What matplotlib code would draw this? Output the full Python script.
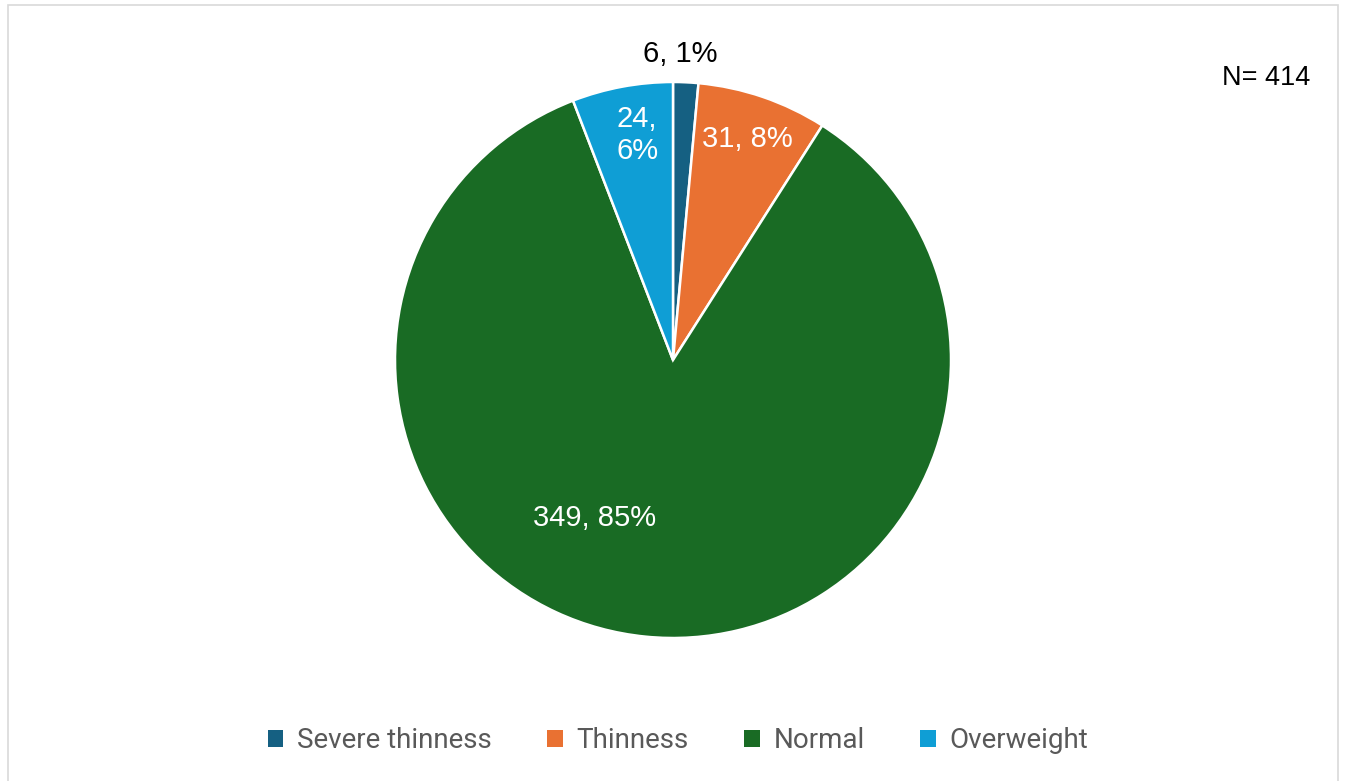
import matplotlib
matplotlib.use("Agg")
import matplotlib.pyplot as plt
from matplotlib.patches import Rectangle, Patch

categories = ["Severe thinness", "Thinness", "Normal", "Overweight"]
counts = [6, 31, 349, 24]
colors = ["#156082", "#E97132", "#196B24", "#0F9ED5"]
label_pos = [(0.025, 1.10), (0.266, 0.795), (-0.281, -0.568), (-0.129, 0.809)]
label_color = ["black", "white", "white", "white"]
n_total = 414

plt.rcParams["font.family"] = ["Liberation Sans", "DejaVu Sans"]

W, H = 1346, 781
fig = plt.figure(figsize=(W / 100, H / 100), dpi=100)

# chart area border
fig.patches.append(Rectangle((8 / W, -0.01), 1330 / W, (H - 5) / H + 0.01,
                             transform=fig.transFigure, fill=False,
                             edgecolor="#d9d9d9", linewidth=1.2))

cx, cy, r = 673, 360, 278
ax = fig.add_axes([(cx - r) / W, (H - cy - r) / H, 2 * r / W, 2 * r / H])
ax.pie(counts, colors=colors, startangle=90, counterclock=False, radius=1,
       wedgeprops=dict(edgecolor="white", linewidth=1.8))
ax.set_xlim(-1, 1)
ax.set_ylim(-1, 1)
ax.set_aspect("equal")
ax.axis("off")

total = sum(counts)
for c, (x, y), col in zip(counts, label_pos, label_color):
    txt = f"{c}, {round(100 * c / total)}%"
    if c == 24:
        txt = txt.replace(", ", ",\n")
    ax.text(x, y, txt, ha="center", va="center", color=col, fontsize=21,
            linespacing=1.15)

fig.text(1266 / W, 1 - 78 / H, f"N= {n_total}", ha="center", va="center",
         fontsize=19.5, color="black")

handles = [Patch(facecolor=c, edgecolor="none") for c in colors]
fig.legend(handles, categories, loc="center", bbox_to_anchor=(678 / W, 1 - 741 / H),
           ncol=4, frameon=False, handlelength=0.55, handleheight=0.55,
           handletextpad=0.5, columnspacing=2.0,
           prop=dict(family=["Roboto", "DejaVu Sans"], size=20),
           labelcolor="#595959")

fig.savefig("out.png", dpi=100)
